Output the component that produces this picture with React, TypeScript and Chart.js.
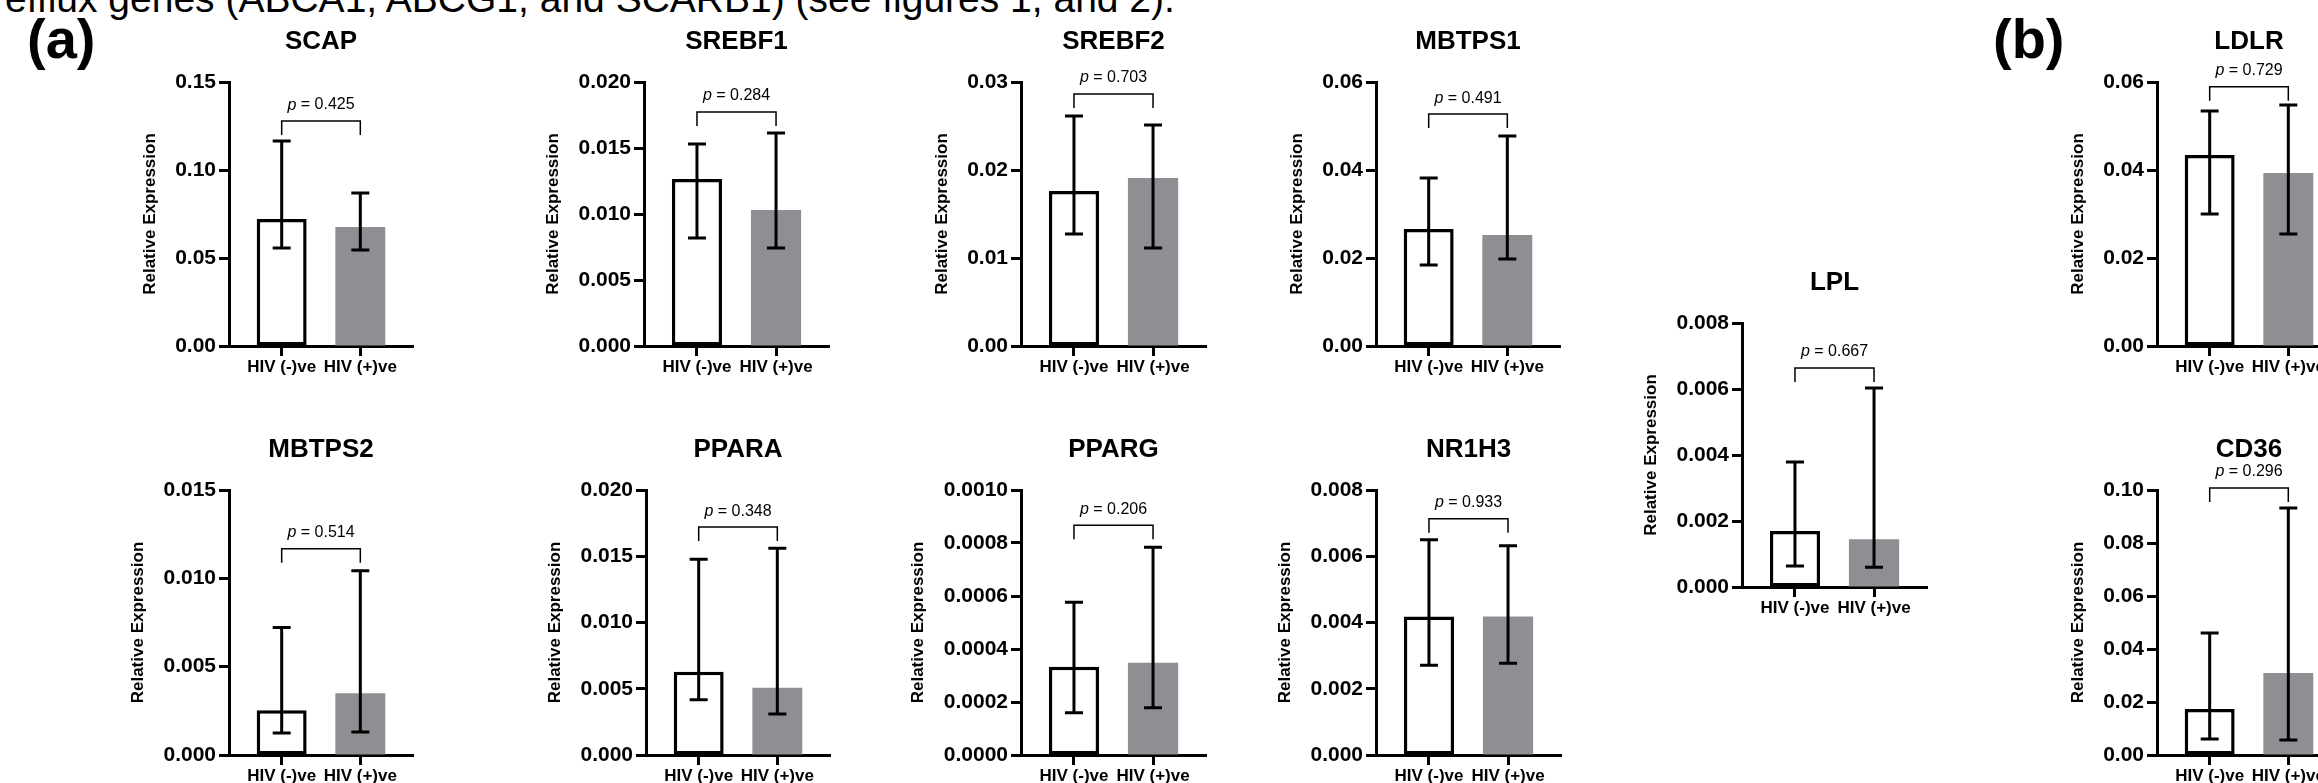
import React, { useEffect, useRef } from "react";
import { Chart, registerables } from "chart.js";

Chart.register(...registerables);

// ---------------- DATA ----------------
const GENES = ["SCAP", "SREBF1", "SREBF2", "MBTPS1", "MBTPS2", "PPARA", "PPARG", "NR1H3", "LPL", "LDLR", "CD36"];
const GROUPS = ["HIV (-)ve", "HIV (+)ve"];
const NEG_MEAN = [0.0722, 0.01265, 0.0176, 0.0266, 0.00254, 0.00629, 0.000333, 0.00418, 0.0017, 0.0434, 0.0174];
const POS_MEAN = [0.0676, 0.0103, 0.0191, 0.0252, 0.0035, 0.00508, 0.000348, 0.00418, 0.00145, 0.0393, 0.0309];
const NEG_LOW = [0.0557, 0.00818, 0.01273, 0.0184, 0.00124, 0.00417, 0.000159, 0.00271, 0.00064, 0.03, 0.006];
const NEG_HIGH = [0.1165, 0.0153, 0.02614, 0.0382, 0.00722, 0.01477, 0.000576, 0.0065, 0.00379, 0.0534, 0.046];
const POS_LOW = [0.0545, 0.00742, 0.01114, 0.0198, 0.0013, 0.0031, 0.000178, 0.00277, 0.0006, 0.02545, 0.0057];
const POS_HIGH = [0.0869, 0.01614, 0.0251, 0.0477, 0.01043, 0.0156, 0.000784, 0.00632, 0.00603, 0.0548, 0.0932];
const P_VALUES = ["0.425", "0.284", "0.703", "0.491", "0.514", "0.348", "0.206", "0.933", "0.667", "0.729", "0.296"];
const BRACKET_LEVEL = [0.1278, 0.01773, 0.02864, 0.0527, 0.01167, 0.0172, 0.000867, 0.00713, 0.00664, 0.0589, 0.1008];
const Y_MAX = [0.15, 0.02, 0.03, 0.06, 0.015, 0.02, 0.001, 0.008, 0.008, 0.06, 0.1];
const Y_STEP = [0.05, 0.005, 0.01, 0.02, 0.005, 0.005, 0.0002, 0.002, 0.002, 0.02, 0.02];
const Y_DECIMALS = [2, 3, 2, 2, 3, 3, 4, 3, 3, 2, 2];
const Y_TITLE = "Relative Expression";
const HEADER_TEXT = "efflux genes (ABCA1, ABCG1, and SCARB1) (see figures 1, and 2).";

// ---------------- LAYOUT (pixels) ----------------
// [axis x, plot right, plot top, plot bottom]
const PANEL_BOX: number[][] = [
  [229, 413, 82, 346],
  [643.5, 828, 82, 346],
  [1021, 1206, 82, 346],
  [1376, 1560, 82, 346],
  [229, 413, 490, 755],
  [646, 830, 490, 755],
  [1021, 1206, 490, 755],
  [1376, 1561, 490, 755],
  [1741.5, 1926.5, 323, 587],
  [2157, 2341, 82, 346],
  [2157, 2341, 490, 755],
];
const X0 = 130;
const PAD_T = 70;
const PAD_R = 10;
const PAD_B = 40;
const FONT = '"Liberation Sans", Arial, Helvetica, sans-serif';
const GREY = "#8e8f93";
const CAP = 18;

function overlayPlugin(i: number) {
  return {
    id: "overlay" + i,
    afterDatasetsDraw(chart: any) {
      const { ctx, chartArea } = chart;
      const xs = chart.scales.x;
      const ys = chart.scales.y;
      ctx.save();
      ctx.strokeStyle = "#000";
      ctx.fillStyle = "#000";
      ctx.lineWidth = 3;
      const bars: number[][] = [
        [1, NEG_LOW[i], NEG_HIGH[i]],
        [2, POS_LOW[i], POS_HIGH[i]],
      ];
      bars.forEach(([xv, lo, hi]) => {
        const px = xs.getPixelForValue(xv);
        const yl = ys.getPixelForValue(lo);
        const yh = ys.getPixelForValue(hi);
        ctx.beginPath();
        ctx.moveTo(px, yl);
        ctx.lineTo(px, yh);
        ctx.moveTo(px - CAP / 2, yl);
        ctx.lineTo(px + CAP / 2, yl);
        ctx.moveTo(px - CAP / 2, yh);
        ctx.lineTo(px + CAP / 2, yh);
        ctx.stroke();
      });
      // bracket
      const by = ys.getPixelForValue(BRACKET_LEVEL[i]);
      const x1 = xs.getPixelForValue(1);
      const x2 = xs.getPixelForValue(2);
      ctx.lineWidth = 1.5;
      ctx.beginPath();
      ctx.moveTo(x1, by + 14);
      ctx.lineTo(x1, by);
      ctx.lineTo(x2, by);
      ctx.lineTo(x2, by + 14);
      ctx.stroke();
      // p text
      const pFont = "italic 16px " + FONT;
      const rFont = "16px " + FONT;
      const rest = " = " + P_VALUES[i];
      ctx.font = pFont;
      const wp = ctx.measureText("p").width;
      ctx.font = rFont;
      const wr = ctx.measureText(rest).width;
      const cx = (x1 + x2) / 2;
      const sx = cx - (wp + wr) / 2;
      ctx.textBaseline = "middle";
      ctx.textAlign = "left";
      ctx.font = pFont;
      ctx.fillText("p", sx, by - 16);
      ctx.font = rFont;
      ctx.fillText(rest, sx + wp, by - 16);
      // gene title
      ctx.font = "bold 26px " + FONT;
      ctx.textAlign = "center";
      ctx.fillText(GENES[i], (chartArea.left + chartArea.right) / 2, chartArea.top - 40);
      // y title
      ctx.font = "bold 21px " + FONT;
      let widest = 0;
      ys.ticks.forEach((t: any) => {
        widest = Math.max(widest, ctx.measureText(String(t.label)).width);
      });
      const tx = chartArea.left - 13 - widest - 25;
      const ty = (chartArea.top + chartArea.bottom) / 2;
      ctx.translate(tx, ty);
      ctx.rotate(-Math.PI / 2);
      ctx.font = "bold 17px " + FONT;
      ctx.textAlign = "center";
      ctx.textBaseline = "middle";
      ctx.fillText(Y_TITLE, 0, 0);
      ctx.restore();
    },
  };
}

function Panel({ i }: { i: number }) {
  const ref = useRef<HTMLCanvasElement>(null);
  const [ax, right, top, bottom] = PANEL_BOX[i];
  const W = Math.round(X0 + (right - ax) + PAD_R);
  const H = Math.round(PAD_T + (bottom - top) + PAD_B);
  useEffect(() => {
    if (!ref.current) return;
    const axisCommon = {
      grid: {
        display: true,
        drawOnChartArea: false,
        drawTicks: true,
        tickLength: 10,
        tickWidth: 3,
        tickColor: "#000",
        color: "#000",
        offset: false,
      },
      border: { display: true, color: "#000", width: 3 },
    };
    const chart = new Chart(ref.current, {
      type: "bar",
      data: {
        datasets: [
          {
            data: [
              { x: 1, y: NEG_MEAN[i] },
              { x: 2, y: POS_MEAN[i] },
            ],
            backgroundColor: ["#ffffff", GREY],
            borderColor: "#000",
            borderWidth: [3.5, 0],
            borderSkipped: false,
            categoryPercentage: 1,
            barPercentage: 0.635,
          } as any,
        ],
      },
      options: {
        responsive: false,
        animation: false,
        devicePixelRatio: 1,
        layout: { padding: { left: 0, right: PAD_R, top: PAD_T, bottom: 0 } },
        plugins: {
          legend: { display: false },
          tooltip: { enabled: false },
          title: { display: false },
        },
        scales: {
          x: {
            type: "linear",
            min: 0.33,
            max: 2.67,
            offset: false,
            afterBuildTicks: (s: any) => {
              s.ticks = [{ value: 1 }, { value: 2 }];
            },
            afterFit: (s: any) => {
              s.height = PAD_B;
            },
            ticks: {
              autoSkip: false,
              maxRotation: 0,
              padding: 1,
              color: "#000",
              font: { family: FONT, size: 17, weight: "bold" },
              callback: (v: any) => GROUPS[Math.round(Number(v)) - 1] ?? "",
            },
            ...axisCommon,
          },
          y: {
            type: "linear",
            min: 0,
            max: Y_MAX[i],
            afterFit: (s: any) => {
              s.width = X0;
            },
            ticks: {
              stepSize: Y_STEP[i],
              padding: 3,
              color: "#000",
              font: { family: FONT, size: 21, weight: "bold" },
              callback: (v: any) => Number(v).toFixed(Y_DECIMALS[i]),
            },
            ...axisCommon,
          },
        },
      } as any,
      plugins: [overlayPlugin(i)],
    });
    return () => chart.destroy();
  }, [i]);
  return (
    <canvas
      ref={ref}
      width={W}
      height={H}
      style={{ position: "absolute", left: Math.round(ax - X0), top: top - PAD_T, width: W, height: H }}
    />
  );
}

export default function App() {
  return (
    <div
      style={{
        position: "fixed",
        left: 0,
        top: 0,
        width: 2318,
        height: 783,
        overflow: "hidden",
        background: "#fff",
        fontFamily: FONT,
        color: "#000",
      }}
    >
      <div
        style={{
          position: "absolute",
          left: 5,
          top: -21,
          fontSize: 39,
          lineHeight: "40px",
          whiteSpace: "nowrap",
        }}
      >
        {HEADER_TEXT}
      </div>
      <div style={{ position: "absolute", left: 27, top: 11, fontSize: 56, lineHeight: "56px", fontWeight: "bold" }}>(a)</div>
      <div style={{ position: "absolute", left: 1993, top: 11, fontSize: 56, lineHeight: "56px", fontWeight: "bold" }}>(b)</div>
      {GENES.map((g, i) => (
        <Panel key={g} i={i} />
      ))}
    </div>
  );
}
